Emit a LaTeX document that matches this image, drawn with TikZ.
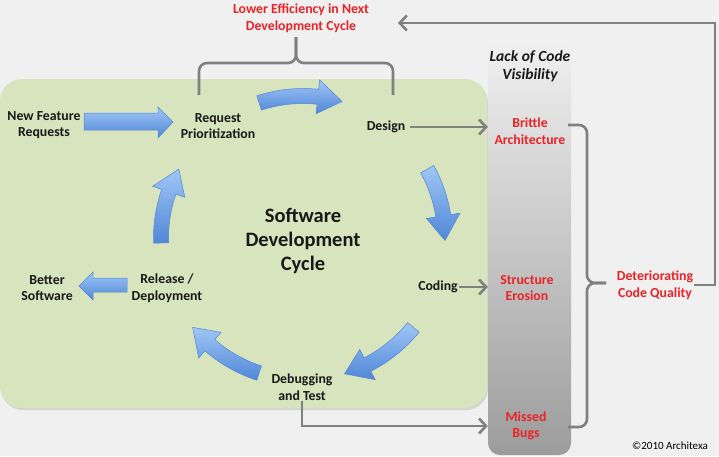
\documentclass[tikz,border=0pt]{standalone}
\usepackage{fontspec}
\setmainfont{Carlito}
\usepackage{color}
\definecolor{mybg}{RGB}{240,240,240}
\definecolor{mygreen}{RGB}{216,228,189}
\definecolor{myred}{RGB}{236,34,38}
\definecolor{mygray}{RGB}{128,128,128}
\definecolor{mybardark}{RGB}{156,156,156}
\definecolor{myblue}{RGB}{80,135,215}
\definecolor{mylightblue}{RGB}{160,198,246}
\usepackage{tikz}
\usetikzlibrary{
  arrows.meta,
  positioning,
  shadows,
  calc}

\begin{document}
\begin{tikzpicture}[
  x=1pt, y=-1pt,
  lbl/.style={
    font=\bfseries\fontsize{13.8}{16.5}\selectfont,
    align=center,
    text=black!90,
    inner sep=1pt
    },
  redlbl/.style={lbl, text=myred},
  conn/.style={
    draw=mygray,
    line width=2.6pt,
    -{Straight Barb[length=7pt,width=15pt]}
    },
  brace/.style={draw=mygray, line width=2.6pt, rounded corners=8pt},
  blockarrow/.style={
    draw=myblue,
    line width=0.5pt,
    top color=mylightblue,
    bottom color=myblue
    },
  colbar/.style={
    rounded corners=12pt,
    minimum width=83pt,
    minimum height=414pt,
    inner sep=0pt,
    top color=mybg,
    bottom color=mybardark
    }
]

\fill[mybg] (0,0) rectangle (719,456);
\useasboundingbox (0,0) rectangle (719,456);

\path[fill=mygreen, rounded corners=22pt,
  drop shadow={opacity=0.25, shadow xshift=1pt, shadow yshift=-2pt}]
  (0,79) rectangle (487,408);
\node[colbar] (col) at (529.5,248) {};

\node[redlbl] (lower) at (301,18) {Lower Efficiency in Next\\Development Cycle};
\node[lbl] (newreq) at (44,125) {New Feature\\Requests};
\node[lbl] (reqprio) at (218,126) {Request\\Prioritization};
\node[lbl] (design) at (386,127) {Design};
\node[lbl, font=\bfseries\fontsize{20.5}{24}\selectfont] (sdc) at (303,241) {Software\\Development\\Cycle};
\node[lbl] (coding) at (438,287) {Coding};
\node[lbl] (debug) at (302,387) {Debugging\\and Test};
\node[lbl] (release) at (167,288) {Release /\\Deployment};
\node[lbl] (better) at (47,288) {Better\\Software};
\node[lbl, font=\bfseries\itshape\fontsize{15.5}{18}\selectfont] (lack) at (530,66) {Lack of Code\\Visibility};
\node[redlbl] (brittle) at (530,131) {Brittle\\Architecture};
\node[redlbl] (erosion) at (527,288) {Structure\\Erosion};
\node[redlbl] (missed) at (526,426) {Missed\\Bugs};
\node[redlbl] (quality) at (655,285) {Deteriorating\\Code Quality};
\node[font=\fontsize{11}{13}\selectfont, inner sep=0pt] (copy) at (670,446) {\textcopyright2010 Architexa};

\coordinate (backturn) at (715,23);
\coordinate (backtip) at (398,23);

\path[blockarrow] (84,113) -- (158,113) -- (158,107) -- (173,122) -- (158,138) -- (158,130) -- (84,130) -- cycle;
\path[blockarrow] (127,278) -- (93,278) -- (93,272) -- (79,286) -- (93,300) -- (93,292) -- (127,292) -- cycle;

\begin{scope}[shift={(303,238)}]
\foreach \s/\e [evaluate=\e as \m using \e-10] in {-108/-74,-29/1,39/73,108/141,178/209}
  \path[blockarrow] (\s:149.5) arc[start angle=\s, end angle=\m, radius=149.5]
    -- (\m:159) -- (\e:142) -- (\m:125) -- (\m:134.5)
    arc[start angle=\m, end angle=\s, radius=134.5] -- cycle;
\end{scope}

\draw[conn, shorten <=4pt] (design.east) -- (design -| col.west);
\draw[conn] (coding.east) -- (coding -| col.west);
\draw[conn] (debug.south) |- (col.west |- missed);
\draw[conn] (quality.east) -| (backturn) -- (backtip);

\draw[brace] (199,95) -- (199,63) -- (296,63) -- (296,37);
\draw[brace] (393,95) -- (393,63) -- (296,63) -- (296,37);
\draw[brace] (568,125) -- (587,125) -- (587,283) -- (606,283);
\draw[brace] (568,427) -- (587,427) -- (587,283) -- (606,283);

\end{tikzpicture}
\end{document}
